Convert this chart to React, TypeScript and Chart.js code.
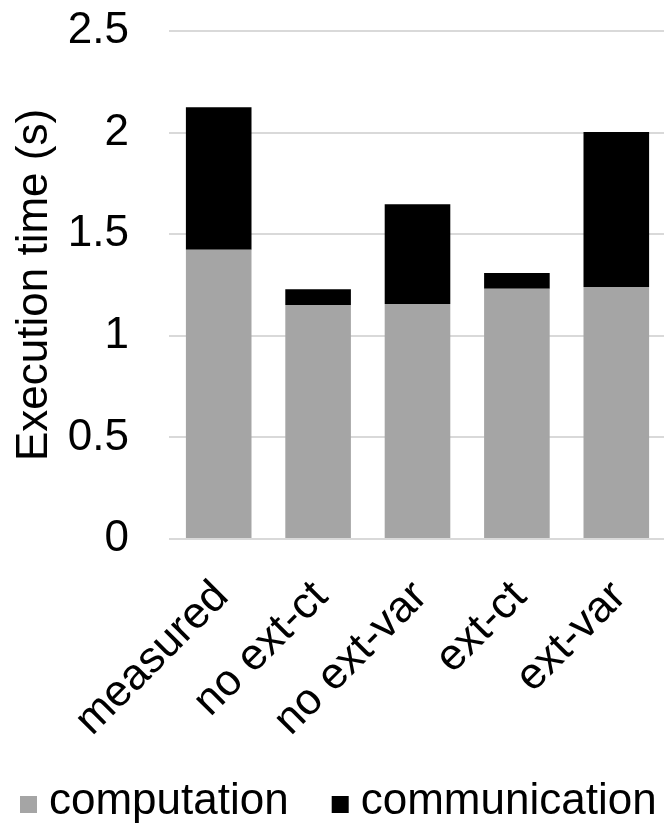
import React, { useEffect, useRef } from "react";
import { Chart, registerables } from "chart.js";

Chart.register(...registerables);

const categories = ["measured", "no ext-ct", "no ext-var", "ext-ct", "ext-var"];
const computation = [1.424, 1.152, 1.157, 1.232, 1.24];
const communication = [0.701, 0.077, 0.49, 0.077, 0.763];
const seriesNames = ["computation", "communication"];
const seriesColors = ["#a5a5a5", "#000000"];
const yMin = 0;
const yMax = 2.5;
const yStep = 0.5;
const yTitle = "Execution time (s)";

const FONT = '"Liberation Sans", Arial, sans-serif';

const bottomLegend = {
  id: "bottomLegend",
  afterDraw(chart: any) {
    const ctx = chart.ctx;
    ctx.save();
    ctx.font = `44px ${FONT}`;
    ctx.textBaseline = "alphabetic";
    ctx.textAlign = "left";
    const box = 17;
    const gap = 12;
    const itemGap = 43;
    const baseline = 814;
    let x = 20;
    chart.data.datasets.forEach((ds: any) => {
      ctx.fillStyle = ds.backgroundColor;
      ctx.fillRect(x, baseline - 18, box, box);
      x += box + gap;
      ctx.fillStyle = "#000";
      ctx.fillText(ds.label, x, baseline);
      x += ctx.measureText(ds.label).width + itemGap;
    });
    ctx.restore();
  },
};

export default function App() {
  const ref = useRef<HTMLCanvasElement | null>(null);
  useEffect(() => {
    if (!ref.current) return;
    const chart = new Chart(ref.current, {
      type: "bar",
      data: {
        labels: categories,
        datasets: [
          {
            label: seriesNames[0],
            data: computation,
            backgroundColor: seriesColors[0],
            borderWidth: 0,
          },
          {
            label: seriesNames[1],
            data: communication,
            backgroundColor: seriesColors[1],
            borderWidth: 0,
          },
        ],
      },
      options: {
        animation: false,
        responsive: false,
        devicePixelRatio: 1,
        layout: { padding: { top: 31, right: 4, bottom: 0, left: 0 } },
        datasets: { bar: { categoryPercentage: 1, barPercentage: 0.66 } },
        plugins: {
          legend: { display: false },
          tooltip: { enabled: false },
        },
        scales: {
          x: {
            stacked: true,
            grid: { display: false },
            border: { display: false },
            ticks: {
              autoSkip: false,
              minRotation: 45,
              maxRotation: 45,
              padding: 24,
              labelOffset: 3,
              color: "#000",
              font: { family: FONT, size: 44 },
            },
            afterFit: (s: any) => {
              s.height = 297;
              s.paddingLeft = 0;
              s.paddingRight = 0;
            },
          },
          y: {
            stacked: true,
            min: yMin,
            max: yMax,
            border: { display: false },
            grid: {
              color: "#d9d9d9",
              lineWidth: 2,
              drawTicks: true,
              tickLength: 40,
              tickColor: "rgba(0,0,0,0)",
            },
            ticks: {
              stepSize: yStep,
              padding: 0,
              color: "#000",
              font: { family: FONT, size: 44 },
              callback: (v: any) => String(v),
            },
            title: {
              display: true,
              text: yTitle,
              color: "#000",
              padding: { top: 8, bottom: 0 },
              font: { family: FONT, size: 44 },
            },
            afterFit: (s: any) => {
              s.width = 169;
              s.paddingTop = 0;
              s.paddingBottom = 0;
            },
          },
        },
      },
      plugins: [bottomLegend],
    });
    return () => chart.destroy();
  }, []);
  return (
    <div
      style={{
        position: "fixed",
        left: 0,
        top: 0,
        width: 664,
        height: 836,
        overflow: "hidden",
        background: "#fff",
      }}
    >
      <canvas ref={ref} width={670} height={836} style={{ display: "block" }} />
    </div>
  );
}
